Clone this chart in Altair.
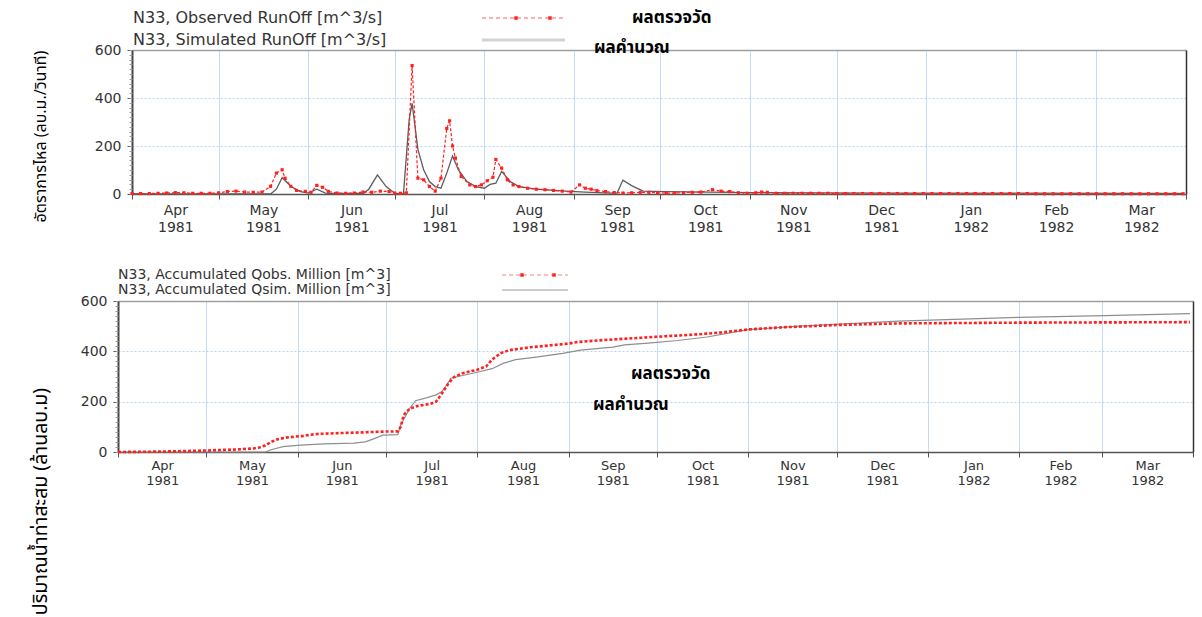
import altair as alt
import pandas as pd

# ---- time axis: days counted from 1 April 1981 ----
month_start = [0, 30, 61, 91, 122, 153, 183, 214, 244, 275, 306, 334, 365]
month_names = ["Apr", "May", "Jun", "Jul", "Aug", "Sep", "Oct", "Nov", "Dec", "Jan", "Feb", "Mar"]
month_years = ["1981"] * 9 + ["1982"] * 3
month_mid = [(a + b) / 2 for a, b in zip(month_start[:-1], month_start[1:])]

# ---- daily runoff at station N33 [m^3/s] ----
obs_day = [0, 3, 6, 9, 12, 15, 18, 21, 24, 27, 30, 33, 36, 39, 42, 45, 48, 50, 52, 53,
           55, 57, 60, 62, 64, 66, 68, 71, 74, 77, 80, 83, 86, 89, 91, 93, 95, 97, 99, 101,
           103, 105, 107, 109, 110, 111, 112, 114, 117, 119, 121, 123, 125, 126, 128, 130,
           132, 134, 137, 140, 143, 146, 149, 152, 155, 157, 159, 161, 164, 167, 170, 173,
           176, 179, 182, 185, 188, 191, 194, 197, 201, 204, 207, 210, 213, 216, 218, 220,
           223, 226, 229, 232, 235, 238, 241, 244, 247, 250, 253, 256, 259, 262, 265, 268,
           271, 274, 277, 280, 283, 286, 289, 292, 295, 298, 301, 304, 307, 310, 313, 316,
           319, 322, 325, 328, 331, 334, 337, 340, 343, 346, 349, 352, 355, 358, 361, 364]
obs_flow = [2, 2, 2, 3, 4, 6, 5, 3, 3, 3, 5, 10, 12, 8, 7, 8, 32, 87, 101, 66,
            32, 15, 11, 7, 36, 28, 11, 4, 3, 4, 8, 7, 12, 10, 4, 3, 5, 535, 66, 59,
            31, 12, 66, 273, 305, 200, 150, 73, 38, 31, 38, 55, 70, 144, 108, 59,
            38, 31, 24, 20, 18, 15, 12, 8, 38, 24, 20, 14, 10, 6, 4, 5,
            7, 7, 5, 4, 4, 6, 7, 8, 18, 12, 10, 5, 3, 5, 8, 7,
            3, 3, 3, 3, 3, 3, 3, 2, 2, 2, 2, 2, 2, 2, 2, 2,
            2, 2, 2, 2, 2, 2, 2, 2, 2, 2, 2, 2, 2, 2, 1, 1,
            1, 1, 1, 1, 1, 1, 1, 1, 1, 1, 1, 1, 1, 1, 1, 1]

sim_day = [0, 48, 50, 52, 55, 58, 61, 64, 67, 70, 80, 82, 85, 88, 91, 94, 96, 97, 99, 101,
           103, 105, 107, 109, 111, 113, 116, 119, 122, 124, 126, 128, 131, 134, 140, 150,
           157, 166, 168, 170, 173, 177, 185, 200, 215, 240, 270, 300, 364]
sim_flow = [0, 0, 20, 68, 32, 11, 4, 20, 4, 2, 2, 20, 80, 31, 3, 0, 312, 378, 186, 101,
            52, 31, 24, 87, 158, 101, 52, 31, 24, 40, 45, 94, 52, 31, 20, 12,
            8, 4, 4, 58, 35, 12, 10, 8, 6, 5, 4, 4, 3]

# ---- accumulated runoff volume [million m^3] ----
cum_obs_day = [0, 10, 20, 30, 40, 46, 48, 50, 52, 54, 57, 60, 63, 65, 68, 75, 83, 90, 95, 96,
               97, 99, 102, 106, 108, 110, 112, 114, 117, 122, 125, 127, 130, 133, 140, 147,
               153, 156, 165, 175, 183, 195, 205, 214, 225, 245, 265, 306, 335, 364]
cum_obs = [0, 1, 3, 6, 10, 14, 18, 26, 40, 50, 57, 61, 64, 68, 72, 75, 78, 81, 82, 100,
           147, 172, 184, 191, 200, 233, 269, 297, 313, 327, 340, 367, 393, 405, 416, 424,
           431, 437, 445, 452, 458, 466, 475, 487, 495, 505, 511, 514, 515, 516]

cum_sim_day = [0, 50, 52, 56, 62, 70, 80, 84, 87, 90, 95, 96, 99, 101, 105, 108, 110, 112, 113,
               117, 122, 127, 131, 135, 142, 151, 157, 168, 172, 180, 190, 200, 214, 230, 245,
               265, 306, 335, 364]
cum_sim = [0, 0, 9, 21, 27, 32, 35, 40, 53, 67, 69, 107, 173, 204, 216, 227, 240, 273, 293,
           304, 317, 331, 353, 367, 377, 392, 405, 417, 426, 433, 443, 457, 486, 499, 508,
           520, 535, 542, 550]

flow_obs_df = pd.DataFrame({"day": obs_day, "value": obs_flow})
flow_sim_df = pd.DataFrame({"day": sim_day, "value": sim_flow})
cum_obs_df = pd.DataFrame({"day": cum_obs_day, "value": cum_obs})
cum_sim_df = pd.DataFrame({"day": cum_sim_day, "value": cum_sim})

RED = "#ff2020"
GRID = "#c4dcf8"
FONT = "DejaVu Sans"
THAI = "Noto Sans Thai, Noto Sans Thai Looped, Loma, Garuda, Tlwg Typo, sans-serif"


def js_list(items, quote):
    if quote:
        return "[" + ",".join(f"'{v}'" for v in items) + "]"
    return "[" + ",".join(str(v) for v in items) + "]"


idx = f"indexof({js_list(month_mid, False)}, datum.value)"
month_label_expr = f"[{js_list(month_names, True)}[{idx}], {js_list(month_years, True)}[{idx}]]"


def axes(y_offset, title, title_x, title_y, title_size, lab_size, lab_pad, line_h):
    grid_x = alt.Axis(orient="bottom", values=month_start, labels=False, ticks=True, tickSize=5,
                      tickColor="#555", grid=True, gridColor=GRID, gridWidth=1, domain=True,
                      domainColor="#555", domainWidth=1.5, title=None)
    label_x = alt.Axis(orient="bottom", values=month_mid, labelExpr=month_label_expr, ticks=False,
                       grid=False, domain=False, labelFont=FONT, labelFontSize=lab_size,
                       labelColor="#333", labelPadding=lab_pad, labelLineHeight=line_h,
                       labelFlush=False, labelOverlap=False, title=None)
    top_x = alt.Axis(orient="top", labels=False, ticks=False, grid=False, domain=True,
                     domainColor="#a0a0a0", domainWidth=1.5, title=None)
    main_y = alt.Axis(orient="left", offset=y_offset, values=[0, 200, 400, 600], grid=True,
                      gridColor="#b5d3f5", gridDash=[2, 2], gridWidth=1, tickSize=5,
                      tickColor="#555", domainColor="#444", domainWidth=2, labelFont=FONT,
                      labelFontSize=14, labelColor="#333", labelPadding=6, title=title,
                      titleX=title_x, titleY=title_y, titleAngle=270, titleAlign="center",
                      titleBaseline="middle", titleFont=THAI, titleFontSize=title_size,
                      titleFontWeight="normal", titleColor="#000")
    minor_y = alt.Axis(orient="left", offset=y_offset, values=list(range(0, 601, 20)),
                       labels=False, grid=False, domain=False, tickSize=3, tickColor="#999",
                       title=None)
    right_y = alt.Axis(orient="right", labels=False, ticks=False, grid=False, domain=True,
                       domainColor="#333", domainWidth=1.5, title=None)
    return grid_x, label_x, top_x, main_y, minor_y, right_y


one = pd.DataFrame({"k": [0]})


def text(label, x, y, size, color="#333", weight="normal", font=FONT):
    return alt.Chart(pd.DataFrame({"label": [label]})).mark_text(
        align="left", baseline="middle", fontSize=size, font=font, fontWeight=weight, color=color
    ).encode(x=alt.value(x), y=alt.value(y), text="label:N")


def sample_line(x1, x2, y, color, width, dash=None):
    kw = dict(color=color, strokeWidth=width)
    if dash:
        kw["strokeDash"] = dash
    return alt.Chart(one).mark_rule(**kw).encode(x=alt.value(x1), x2=alt.value(x2), y=alt.value(y))


def sample_dot(x, y):
    return alt.Chart(one).mark_square(color=RED, size=12, opacity=1).encode(
        x=alt.value(x), y=alt.value(y))


# ---------------- upper panel: runoff ----------------
gx, lx, tx, my, ny, ry = axes(-14, "อัตราการไหล (ลบ.ม./วินาที)", -92, 86, 16, 14, 9, 17)
xs = alt.Scale(domain=[0, 365], range=[14, 1068], nice=False, zero=False)
ys = alt.Scale(domain=[0, 600], nice=False)

upper = alt.layer(
    alt.Chart(flow_sim_df).mark_line(color="#5c5c5c", strokeWidth=1.3).encode(
        x=alt.X("day:Q", scale=xs, axis=gx), y=alt.Y("value:Q", scale=ys, axis=my)),
    alt.Chart(flow_obs_df).mark_line(color=RED, strokeWidth=1.2, strokeDash=[3, 2]).encode(
        x=alt.X("day:Q", scale=xs, axis=lx), y=alt.Y("value:Q", scale=ys, axis=ny)),
    alt.Chart(flow_obs_df).mark_square(color=RED, size=10, opacity=1).encode(
        x=alt.X("day:Q", scale=xs, axis=tx), y=alt.Y("value:Q", scale=ys, axis=ry)),
    text("N33, Observed RunOff  [m^3/s]", 15, -32, 16),
    text("N33, Simulated RunOff [m^3/s]", 15, -10, 16),
    sample_line(364, 447, -32, "#ff6060", 1, [4, 3]),
    sample_dot(398, -32),
    sample_dot(432, -32),
    sample_line(364, 447, -10, "#d4d4d4", 3),
    text("ผลตรวจวัด", 514, -32, 17, "#000", "bold", THAI),
    text("ผลคำนวณ", 476, -2, 17, "#000", "bold", THAI),
).resolve_axis(x="independent", y="independent").properties(width=1068, height=144)

# ---------------- lower panel: accumulated volume ----------------
gx2, lx2, tx2, my2, ny2, ry2 = axes(0, "ปริมาณน้ำท่าสะสม (ล้านลบ.ม)", -78, 200, 19.5, 13, 7, 15)
xs2 = alt.Scale(domain=[0, 365], nice=False, zero=False)
ys2 = alt.Scale(domain=[0, 600], nice=False)

lower = alt.layer(
    alt.Chart(cum_sim_df).mark_line(color="#8e8e8e", strokeWidth=1.2).encode(
        x=alt.X("day:Q", scale=xs2, axis=gx2), y=alt.Y("value:Q", scale=ys2, axis=my2)),
    alt.Chart(cum_obs_df).mark_line(color=RED, strokeWidth=2.6, strokeDash=[3, 2]).encode(
        x=alt.X("day:Q", scale=xs2, axis=lx2), y=alt.Y("value:Q", scale=ys2, axis=ny2)),
    alt.Chart(cum_sim_df).mark_line(opacity=0).encode(
        x=alt.X("day:Q", scale=xs2, axis=tx2), y=alt.Y("value:Q", scale=ys2, axis=ry2)),
    text("N33, Accumulated Qobs. Million [m^3]", 0, -26, 14),
    text("N33, Accumulated Qsim. Million [m^3]", 0, -11, 14),
    sample_line(384, 450, -26, "#ff8080", 1, [4, 3]),
    sample_dot(404, -26),
    sample_dot(436, -26),
    sample_line(384, 450, -11, "#9a9a9a", 1),
    text("ผลตรวจวัด", 513, 73, 17, "#000", "bold", THAI),
    text("ผลคำนวณ", 475, 104, 17, "#000", "bold", THAI),
).resolve_axis(x="independent", y="independent").properties(width=1075, height=151)

chart = alt.vconcat(upper, lower, spacing=34).properties(
    padding={"left": 30, "top": 9, "right": 4, "bottom": 0}
).configure_view(stroke=None)

chart.save("out.html", embed_options={"renderer": "svg", "actions": False})
